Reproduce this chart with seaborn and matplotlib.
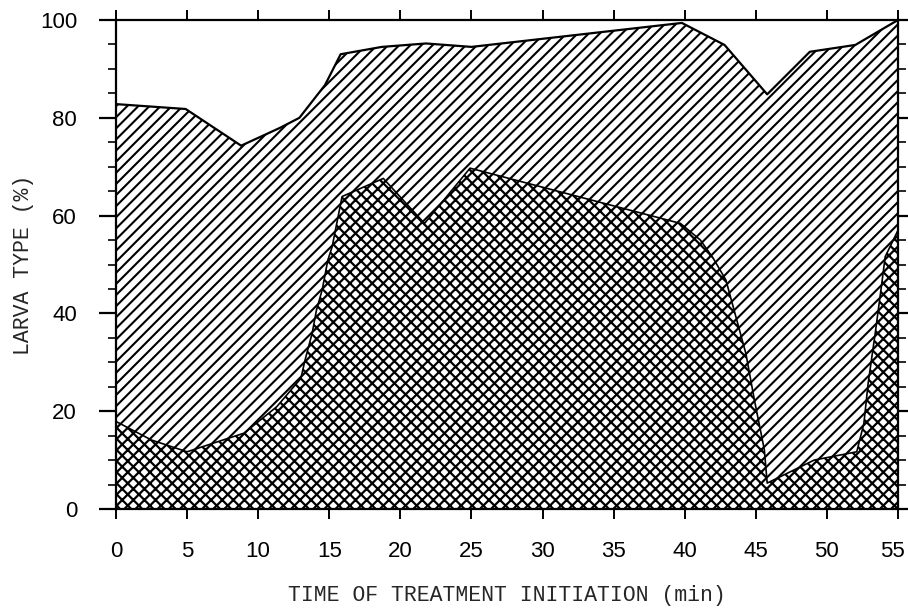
import matplotlib
matplotlib.use("Agg")
import matplotlib.pyplot as plt
import matplotlib.transforms as mtransforms
from matplotlib.ticker import MultipleLocator
import seaborn as sns

# Upper boundary (all larva types, %)
time_total = [0, 4.9, 8.8, 11.5, 12.9, 14.7, 15.8, 18.7, 21.8, 25.0,
              39.8, 42.8, 45.8, 48.8, 52.0, 55.0]
pct_total = [82.8, 81.8, 74.3, 77.9, 80.0, 86.7, 93.0, 94.5, 95.2, 94.5,
             99.4, 94.9, 84.8, 93.5, 94.9, 100.0]

# Lower (cross-hatched) boundary
time_cross = [0, 2.5, 5.0, 7.2, 9.0, 11.3, 11.8, 13.0, 13.3, 13.8, 14.1, 14.5,
              14.9, 15.2, 15.9, 18.8, 21.7, 24.9, 39.7, 41.1, 42.0, 42.9, 43.6,
              44.3, 44.9, 45.6, 45.8, 49.1, 52.1, 52.6, 52.9, 53.4, 53.8, 54.1, 55.0]
pct_cross = [17.9, 14.1, 11.7, 13.8, 15.5, 20.9, 22.6, 26.7, 30.5, 36.0, 40.7, 44.8,
             50.9, 53.6, 63.9, 67.6, 58.4, 69.7, 58.4, 55.0, 51.3, 46.8, 39.3,
             31.8, 22.3, 12.1, 5.3, 10.0, 11.7, 17.5, 25.7, 36.0, 44.8, 51.6, 57.0]

x_ticks = [0, 5, 10, 15, 20, 25, 30, 35, 40, 45, 50, 55]
y_ticks = [0, 20, 40, 60, 80, 100]

sns.set_style("ticks")
plt.rcParams['font.family'] = ['Liberation Sans', 'DejaVu Sans']
plt.rcParams['hatch.linewidth'] = 1.5

fig = plt.figure(figsize=(9.08, 6.10), dpi=100)
ax = fig.add_axes([116 / 908, 1 - 509 / 610, (898 - 116) / 908, (509 - 20) / 610])

# diagonal hatched area under the total line
diag = ax.fill_between(time_total, pct_total, 0, facecolor='white', edgecolor='black',
                       hatch='///', linewidth=0, zorder=1)
# cross hatched area under the lower line
cross = ax.fill_between(time_cross, pct_cross, 0, facecolor='white', edgecolor='black',
                        hatch='xxx', linewidth=0, zorder=2)
if hasattr(cross, 'set_hatch_linewidth'):
    cross.set_hatch_linewidth(1.6)

sns.lineplot(x=time_total, y=pct_total, color='black', linewidth=1.6, ax=ax, zorder=3)
sns.lineplot(x=time_cross, y=pct_cross, color='black', linewidth=1.2, ax=ax, zorder=3)

ax.set_xlim(0, 55)
ax.set_ylim(0, 100)
ax.set_xticks(x_ticks)
ax.set_yticks(y_ticks)
ax.yaxis.set_minor_locator(MultipleLocator(5))

for sp in ax.spines.values():
    sp.set_visible(True)
    sp.set_linewidth(1.6)
    sp.set_color('black')
    sp.set_zorder(5)

ax.tick_params(axis='x', which='major', direction='out', length=7, width=1.4,
               top=True, bottom=True, labelsize=16, pad=16, colors='black')
ax.tick_params(axis='y', which='major', direction='out', length=12, width=1.6,
               left=True, right=True, labelsize=16, pad=16, colors='black')
ax.tick_params(axis='y', which='minor', direction='out', length=6, width=1.4,
               left=True, right=True)

# keep the last x label ("55") inside the picture
last = ax.get_xticklabels()[-1]
last.set_transform(last.get_transform() + mtransforms.ScaledTranslation(-6 / 100, 0, fig.dpi_scale_trans))

mono = ['Liberation Mono', 'DejaVu Sans Mono']
ax.set_xlabel('TIME OF TREATMENT INITIATION (min)', family=mono, fontsize=15.5)
ax.set_ylabel('LARVA TYPE (%)', family=mono, fontsize=15.5)
ax.xaxis.set_label_coords(0.5, -0.156)
ax.yaxis.set_label_coords(-0.105, 0.5)

fig.savefig('out.png', dpi=100)
